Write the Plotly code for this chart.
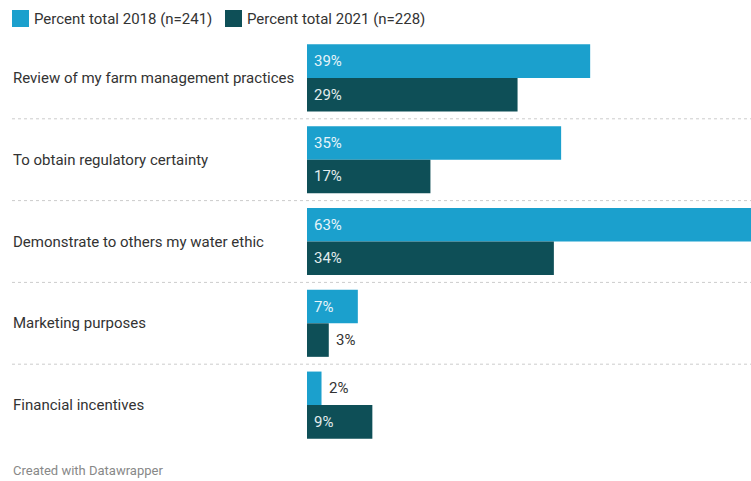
import plotly.graph_objects as go

categories = [
    "Review of my farm management practices",
    "To obtain regulatory certainty",
    "Demonstrate to others my water ethic",
    "Marketing purposes",
    "Financial incentives",
]
pct_2018 = [39, 35, 63, 7, 2]
pct_2021 = [29, 17, 34, 3, 9]
series_names = ["Percent total 2018 (n=241)", "Percent total 2021 (n=228)"]
footer_text = "Created with Datawrapper"

colors = ["#1ba0cd", "#0e4f57"]
inside_text_colors = ["#e6f4fa", "#e2eced"]
FONT = "Roboto"

W, H = 751, 481
L, R, T, B = 307, 0, 37, 35
pw = W - L - R
ph = H - T - B
XMAX = 61.15


def px_x(p):
    return (p - L) / pw


def px_y(p):
    return (H - B - p) / ph


fig = go.Figure()
all_vals = [pct_2018, pct_2021]
for name, vals, col in zip(series_names, all_vals, colors):
    fig.add_trace(go.Bar(
        y=categories, x=vals, orientation="h", name=name,
        marker=dict(color=col, line=dict(width=0)),
        showlegend=False, hoverinfo="skip",
    ))

annotations = []
bar_px = 0.41 * ph / len(categories)
for s, vals in enumerate(all_vals):
    yshift = bar_px / 2 if s == 0 else -bar_px / 2
    for cat, v in zip(categories, vals):
        inside = v * pw / XMAX > 32
        annotations.append(dict(
            x=0 if inside else v, y=cat, xref="x", yref="y",
            text=f"{v}%", showarrow=False, xanchor="left", yanchor="middle",
            xshift=5, yshift=yshift,
            font=dict(family=FONT, size=15,
                      color=inside_text_colors[s] if inside else "#333333"),
        ))

for cat in categories:
    annotations.append(dict(
        x=px_x(12), y=cat, xref="paper", yref="y", text=cat, showarrow=False,
        xanchor="left", yanchor="middle", xshift=-1,
        font=dict(family=FONT, size=15, color="#333333"),
    ))

shapes = []
for k in range(1, len(categories)):
    shapes.append(dict(
        type="line", xref="paper", yref="y", x0=px_x(12), x1=1,
        y0=k - 0.5, y1=k - 0.5, layer="below",
        line=dict(color="#cccccc", width=1, dash="dot"),
    ))

# legend
legend_x = [12, 225]
for i, (name, col) in enumerate(zip(series_names, colors)):
    x0 = legend_x[i]
    shapes.append(dict(
        type="rect", xref="paper", yref="paper",
        x0=px_x(x0), x1=px_x(x0 + 17), y0=px_y(27), y1=px_y(10),
        fillcolor=col, line=dict(width=0),
    ))
    annotations.append(dict(
        x=px_x(x0 + 21), y=px_y(19), xref="paper", yref="paper", text=name,
        showarrow=False, xanchor="left", yanchor="middle", xshift=-1,
        font=dict(family=FONT, size=15, color="#333333"),
    ))

annotations.append(dict(
    x=px_x(12), y=px_y(471), xref="paper", yref="paper", text=footer_text,
    showarrow=False, xanchor="left", yanchor="middle", xshift=-1,
    font=dict(family=FONT, size=13, color="#888888"),
))

fig.update_layout(
    width=W, height=H,
    margin=dict(l=L, r=R, t=T, b=B, pad=0),
    paper_bgcolor="white", plot_bgcolor="white",
    barmode="group", bargap=0.18, bargroupgap=0,
    xaxis=dict(range=[0, XMAX], visible=False, fixedrange=True),
    yaxis=dict(categoryorder="array", categoryarray=categories,
               range=[len(categories) - 0.5, -0.5], visible=False, fixedrange=True),
    annotations=annotations, shapes=shapes, showlegend=False,
    font=dict(family=FONT),
)

fig.write_html(
    "out.html",
    config={"displayModeBar": False},
    post_script="document.body.style.margin='0';document.body.style.overflow='hidden';",
)
